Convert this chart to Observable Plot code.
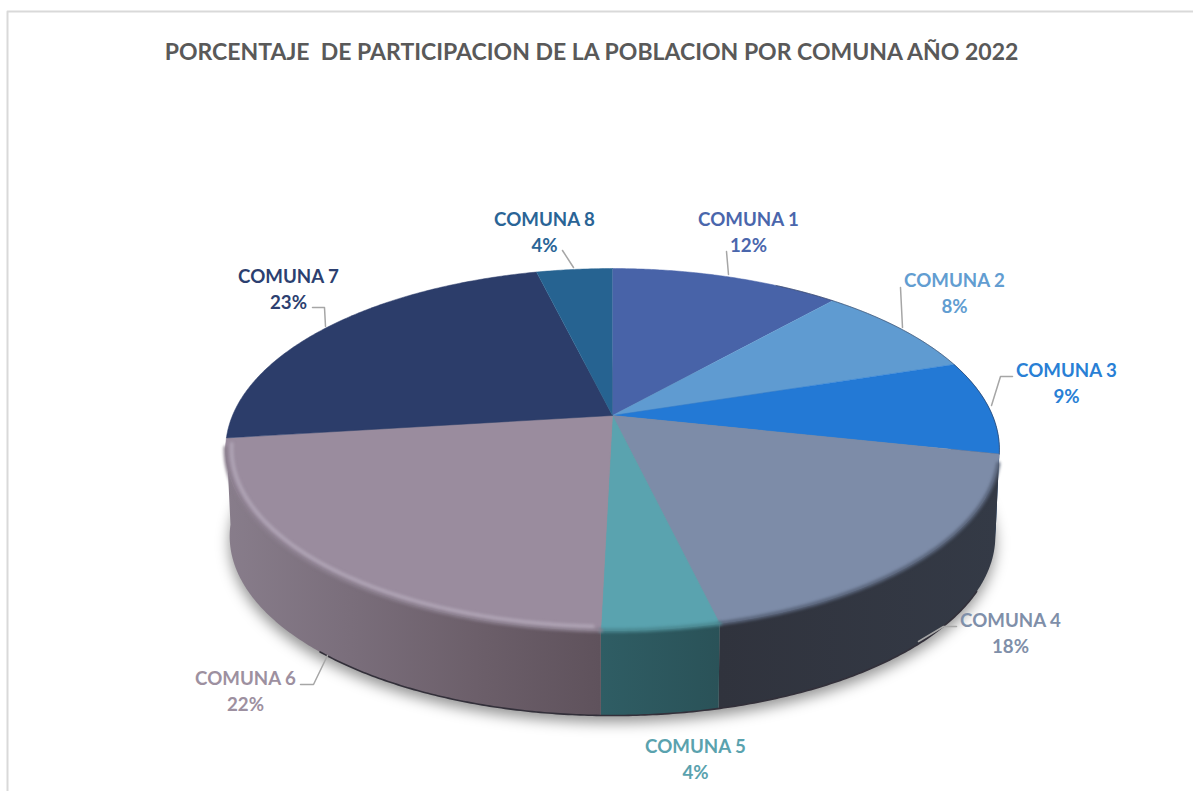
<!DOCTYPE html>
<html><head><meta charset="utf-8">
<style>html,body{margin:0;padding:0;background:#fff;overflow:hidden}svg{display:block}</style>
<script src="https://cdn.jsdelivr.net/npm/d3@7"></script>
<script src="https://cdn.jsdelivr.net/npm/@observablehq/plot@0.6"></script>
</head><body><div id="chart"></div>
<script>
// ---- data ----
const title = "PORCENTAJE  DE PARTICIPACION DE LA POBLACION POR COMUNA AÑO 2022";
const comunas = ["COMUNA 1","COMUNA 2","COMUNA 3","COMUNA 4","COMUNA 5","COMUNA 6","COMUNA 7","COMUNA 8"];
const labelPct = [12,8,9,18,4,22,23,4];                 // printed labels
const drawnShare = [11.5,8.5,8.4,17.9,4.1,22.6,23.2,3.8]; // unrounded share as drawn by slice
// ---- styles ----
const topColors = ["#4863a8","#5f9bd1","#2379d5","#7d8ca8","#5aa3af","#9a8c9e","#2c3d6a","#266391"];
const labelColors = ["#4a66ac","#629dd1","#297fd5","#7f8fa9","#5aa2ae","#9d90a0","#2c3f70","#2a6496"];
// wall shading, left to right; only the front-facing slices show a wall
const wallRamps = {2:["#163f72","#103a70"],3:["#30333d","#343a46"],4:["#2f5d64","#2a5258"],5:["#887d8b","#7a6e7b","#6c5f6a","#5f525c"]};
// ---- layout of labels and leaders (chart pixels) ----
const labelPos = [[748,230],[954,291],[1066,381],[1010,631],[695,757],[245,689],[288,287],[544,230]];
const leaders = [
  [[726,251],[728,274]],
  [[900,287],[902,327]],
  [[1012,376],[1000,376],[991,405]],
  [[956,626],[943,626],[918,641]],
  [],
  [[300,684],[313,684],[327,655]],
  [[312,307],[324,307],[325,326]],
  [[562,250],[573,267]]
];
// ---- perspective of the disc ----
const cx = 612, k = 0.188;
const topDisc = {a:380, b:174.6, y0:415};
const botDisc = {a:376, b:173, y0:502};
const proj = (d, deg, r = 1) => {
  const t = deg * Math.PI / 180, px = r * Math.sin(t), py = -r * Math.cos(t), w = 1 - k * py;
  return {x: cx + d.a * px / w, y: d.y0 + d.b * py / w};
};
const arc = (d, a0, a1, r = 1) => {
  const n = Math.max(2, Math.ceil(Math.abs(a1 - a0) * 2)), out = [];
  for (let i = 0; i <= n; i++) out.push(proj(d, a0 + (a1 - a0) * i / n, r));
  return out;
};
const cum = d3.cumsum(drawnShare).map(v => v * 3.6);
const start = i => i ? cum[i - 1] : 0;

const slices = comunas.flatMap((c, i) => [{x:cx, y:topDisc.y0}, ...arc(topDisc, start(i), cum[i])].map(v => ({...v, c, color: topColors[i]})));
const labelRows = comunas.map((c, i) => ({text: `${c}\n${labelPct[i]}%`, x: labelPos[i][0], y: labelPos[i][1], color: labelColors[i]}));
const leaderRows = leaders.flatMap((l, i) => l.map(([x, y]) => ({x, y, i})));
const frame = [{x:7,y:791},{x:7,y:11},{x:1193,y:11}];
const font = "Lato, Carlito, sans-serif";

// gradient definitions for the walls
const gradients = () => {
  const defs = d3.create("svg:defs");
  Object.entries(wallRamps).forEach(([i, ramp]) => {
    const g = defs.append("linearGradient").attr("id", "wall" + i).attr("x1", 0).attr("x2", 1).attr("y1", 0).attr("y2", 0);
    ramp.forEach((c, j) => g.append("stop").attr("offset", j / (ramp.length - 1)).attr("stop-color", c));
  });
  return defs.node();
};
const wallMarks = Object.keys(wallRamps).map(i => {
  i = +i;
  const pts = [...arc(topDisc, start(i), cum[i]), ...arc(botDisc, cum[i], start(i))];
  return Plot.line(pts, {x:"x", y:"y", fill:`url(#wall${i})`, stroke:"none"});
});

const chart = Plot.plot({
  width: 1193, height: 791, margin: 0,
  x: {domain: [0,1193], range: [0,1193], axis: null},
  y: {domain: [0,791], range: [0,791], axis: null},
  color: {type: "identity"},
  style: {background: "#fff", fontFamily: font, whiteSpace: "pre"},
  marks: [
    gradients,
    Plot.line(frame, {x:"x", y:"y", stroke:"#d9d9d9", strokeWidth:2}),
    // soft shadow under the pie
    Plot.line(arc(botDisc,0,360), {x:"x", y:"y", fill:"#000", fillOpacity:.42, stroke:"none", dy:7, imageFilter:"blur(7px)"}),
    // side walls
    ...wallMarks,
    // dark edge below the wall
    Plot.line(arc(botDisc,118,222), {x:"x", y:"y", stroke:"#33303a", strokeWidth:1.6, imageFilter:"blur(.6px)"}),
    // top surface
    Plot.line(slices, {x:"x", y:"y", z:"c", fill:"color", stroke:"color", strokeWidth:.5}),
    // bevel and rim shading
    Plot.line(arc(topDisc,cum[2]+3,cum[3]), {x:"x", y:"y", stroke:"#59647a", strokeWidth:4, imageFilter:"blur(1.8px)"}),
    Plot.line(arc(topDisc,cum[3],cum[4]), {x:"x", y:"y", stroke:"#4a8891", strokeWidth:4, imageFilter:"blur(1.8px)"}),
    Plot.line(arc(topDisc,cum[4],cum[5]-3), {x:"x", y:"y", stroke:"#8a7e8d", strokeWidth:4, imageFilter:"blur(1.8px)"}),
    Plot.line(arc(topDisc,cum[4]+1,cum[5]-2,.985), {x:"x", y:"y", stroke:"#b4a9ba", strokeWidth:3.5, strokeOpacity:.85, imageFilter:"blur(1.8px)"}),
    Plot.line(arc(topDisc,30,cum[2]), {x:"x", y:"y", stroke:"#33405a", strokeWidth:1, strokeOpacity:.6}),
    // leaders and labels
    Plot.line(leaderRows, {x:"x", y:"y", z:"i", stroke:"#a6a6a6", strokeWidth:1.5}),
    Plot.text(labelRows, {x:"x", y:"y", text:"text", fill:"color", fontSize:18.7, fontWeight:700, lineHeight:1.4, fontFamily:font}),
    Plot.text([title], {x:[591], y:[52], text:d=>d, fill:"#595959", fontSize:23, fontWeight:700, fontFamily:font})
  ]
});
document.getElementById("chart").appendChild(chart);
</script></body></html>
